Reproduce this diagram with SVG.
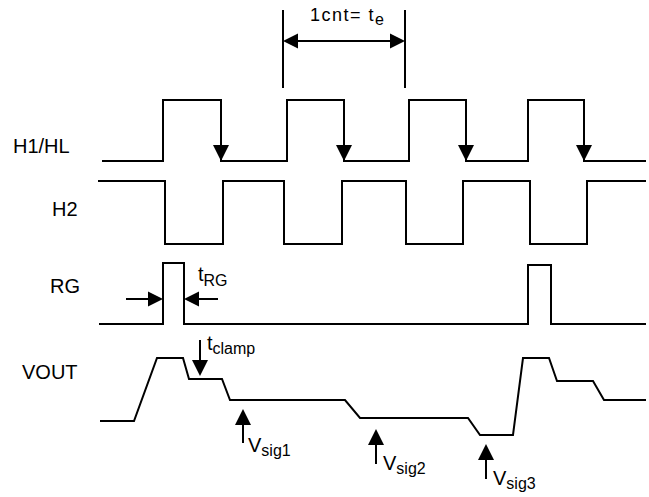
<svg xmlns="http://www.w3.org/2000/svg" xmlns:xlink="http://www.w3.org/1999/xlink" width="649" height="497" viewBox="0 0 649 497">
<style>
.w{fill:none;stroke:#000;stroke-width:2;stroke-linejoin:miter}
.c{fill:none;stroke:#000;stroke-width:2}
.ah{fill:#000;stroke:none}
text{font-family:"Liberation Sans",Arial,Helvetica,sans-serif;fill:#000}
.lbl{font-size:20px}
.sub{font-size:16px}
</style>
<defs>
<path id="ahD" d="M0,0 L-8,-16 L8,-16 Z"/>
<path id="ahU" d="M0,0 L-8,16 L8,16 Z"/>
<path id="ahR" d="M0,0 L-15,-7.5 L-15,7.5 Z"/>
<path id="ahL" d="M0,0 L15,-7.5 L15,7.5 Z"/>
</defs>
<rect width="649" height="497" fill="#fff"/>

<g id="label-h1">
<text class="lbl" x="13" y="153">H1/HL</text>
</g>
<g id="label-h2">
<text class="lbl" x="52" y="216">H2</text>
</g>
<g id="label-rg">
<text class="lbl" x="50" y="293">RG</text>
</g>
<g id="label-vout">
<text class="lbl" x="22" y="379">VOUT</text>
</g>

<g id="h1">
<path class="w" d="M102,161 H163 V100 H221 V161 H287 V100 H344 V161 H409 V100 H466 V161 H528 V100 H584 V161 H646"/>
<use href="#ahD" class="ah" x="221" y="161"/>
<use href="#ahD" class="ah" x="344" y="161"/>
<use href="#ahD" class="ah" x="466" y="161"/>
<use href="#ahD" class="ah" x="584" y="161"/>
</g>

<g id="h2">
<path class="w" d="M98,181 H165 V244 H223 V181 H284 V244 H342 V181 H406 V244 H463 V181 H530 V244 H587 V181 H646"/>
</g>

<g id="rg">
<path class="w" d="M99,324 H163 V263 H184 V324 H528 V265 H551 V324 H646"/>
</g>

<g id="vout">
<path class="w" d="M100,421 H134 L157,358 H183 L189,379 H222 L230,400 H345 L360,418 H468 L480,435 H513 L523,358 H549 L557,381 H593 L604,400 H646"/>
</g>

<g id="connectors">
<line class="c" x1="283" y1="10" x2="283" y2="88"/>
<line class="c" x1="405" y1="10" x2="405" y2="88"/>
<line class="c" x1="290" y1="41" x2="398" y2="41"/>
<use href="#ahL" class="ah" x="283" y="41"/>
<use href="#ahR" class="ah" x="405" y="41"/>

<line class="c" x1="126" y1="299" x2="150" y2="299"/>
<use href="#ahR" class="ah" x="163" y="299"/>
<line class="c" x1="197" y1="299" x2="218" y2="299"/>
<use href="#ahL" class="ah" x="184" y="299"/>

<line class="c" x1="200" y1="340" x2="200" y2="362"/>
<use href="#ahD" class="ah" x="200" y="376"/>

<line class="c" x1="243" y1="422" x2="243" y2="443"/>
<use href="#ahU" class="ah" x="243" y="409"/>
<line class="c" x1="376" y1="442" x2="376" y2="464"/>
<use href="#ahU" class="ah" x="376" y="429"/>
<line class="c" x1="486" y1="457" x2="486" y2="479"/>
<use href="#ahU" class="ah" x="486" y="444"/>
</g>

<g id="annotations">
<text x="310" y="21" font-size="18" letter-spacing="1.5">1cnt= t<tspan class="sub" dy="4" letter-spacing="0">e</tspan></text>
<text class="lbl" x="198" y="281">t<tspan class="sub" dy="5">RG</tspan></text>
<text class="lbl" x="207" y="350">t<tspan class="sub" dy="4">clamp</tspan></text>
<text class="lbl" x="248" y="452">V<tspan class="sub" dy="4">sig1</tspan></text>
<text class="lbl" x="383" y="470">V<tspan class="sub" dy="4">sig2</tspan></text>
<text class="lbl" x="493" y="485">V<tspan class="sub" dy="4">sig3</tspan></text>
</g>
</svg>
